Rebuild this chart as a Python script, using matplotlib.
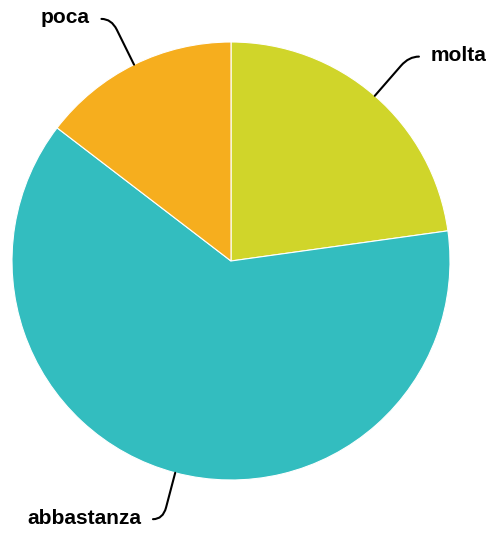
import numpy as np
import matplotlib.pyplot as plt
from matplotlib.path import Path
from matplotlib.patches import PathPatch

labels = ["molta", "abbastanza", "poca"]
values = [22.8, 62.6, 14.6]
colors = ["#d0d52a", "#33bdbf", "#f6ae1e"]

W, H = 491, 533
fig = plt.figure(figsize=(W / 100, H / 100), dpi=100)
ax = fig.add_axes([0, 0, 1, 1])

cx, cy, r = 231, H - 261, 219
wedges, _ = ax.pie(values, colors=colors, startangle=90, counterclock=False,
                   center=(cx, cy), radius=r,
                   wedgeprops=dict(edgecolor="white", linewidth=0.8))

# leader lines: radial stroke that bends into a short horizontal tail
lead = {"molta": 52, "abbastanza": 48, "poca": 51}
for w, lab in zip(wedges, labels):
    ang = np.deg2rad((w.theta1 + w.theta2) / 2)
    ux, uy = np.cos(ang), np.sin(ang)
    d = lead[lab]
    x0, y0 = cx + r * ux, cy + r * uy
    x1, y1 = cx + (r + d - 12) * ux, cy + (r + d - 12) * uy
    xe, ye = cx + (r + d) * ux, cy + (r + d) * uy
    side = 1 if ux > 0 else -1
    x2, y2 = xe + side * 10, ye
    p = Path([(x0, y0), (x1, y1), (xe, ye), (x2, y2)],
             [Path.MOVETO, Path.LINETO, Path.CURVE3, Path.CURVE3])
    ax.add_patch(PathPatch(p, fill=False, lw=1.5, color="black", capstyle="round"))
    ha = "left" if side > 0 else "right"
    ax.text(x2 + side * 12, y2 + 1, lab, ha=ha, va="center", fontsize=15,
            fontweight="bold", family="Liberation Sans")

ax.set_xlim(0, W)
ax.set_ylim(0, H)
ax.set_aspect("auto")
ax.axis("off")
fig.savefig("out.png", dpi=100)
